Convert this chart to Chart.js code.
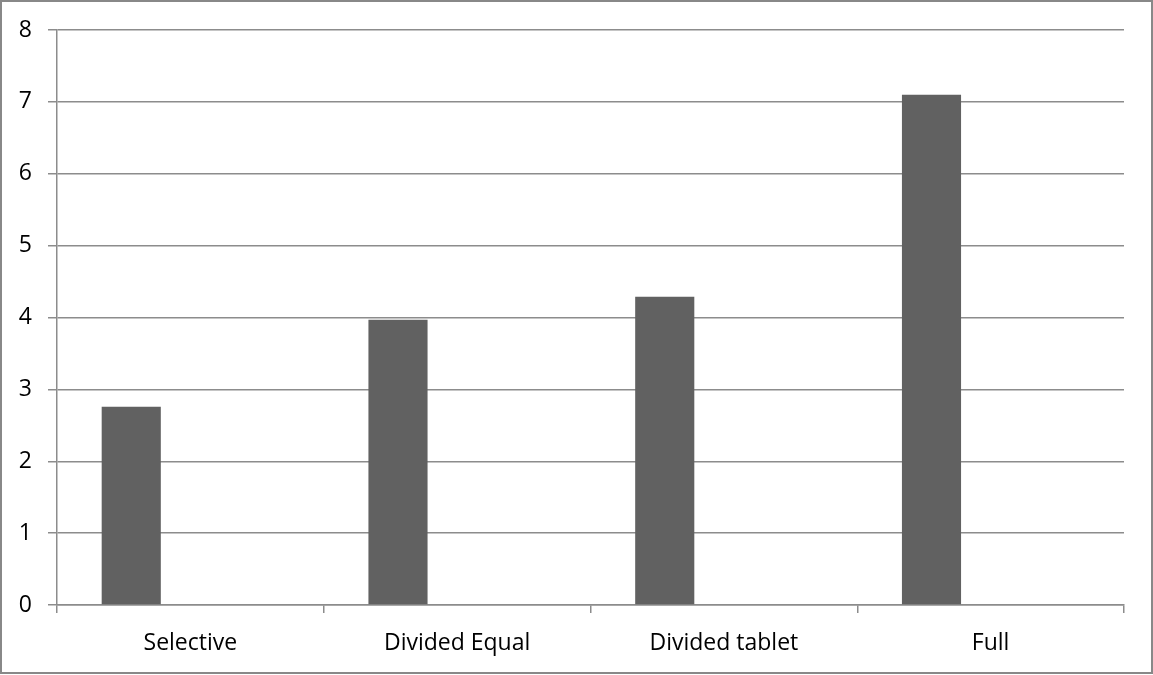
<!DOCTYPE html>
<html>
<head>
<meta charset="utf-8">
<script src="https://cdn.jsdelivr.net/npm/chart.js@4/dist/chart.umd.min.js"></script>
<style>
  html, body { margin: 0; padding: 0; background: #fff; }
  #wrap { width: 1153px; height: 675px; position: relative; }
</style>
</head>
<body>
<div id="wrap"><canvas id="chart"></canvas></div>
<script>
const categories = ['Selective', 'Divided Equal', 'Divided tablet', 'Full'];
const scores = [2.76, 3.97, 4.29, 7.10];
// two empty series, as in the original sheet, push the bars to the left of each slot
const emptySeries = [null, null, null, null];
const yTicks = [0, 1, 2, 3, 4, 5, 6, 7, 8];

const gridGrey = '#8c8c8c';
const barGrey = '#616161';

// gray frame around the whole chart
const framePlugin = {
    id: 'frame',
    afterDraw(chart) {
        const ctx = chart.ctx;
        ctx.save();
        ctx.strokeStyle = '#888888';
        ctx.lineWidth = 2;
        ctx.strokeRect(1, 1, chart.width - 2, chart.height - 3);
        ctx.restore();
    }
};

Chart.defaults.font.family = '"Open Sans", sans-serif';
Chart.defaults.font.size = 23;
Chart.defaults.color = '#000';

new Chart(document.getElementById('chart').getContext('2d'), {
    type: 'bar',
    data: {
        labels: categories,
        datasets: [
            { data: scores, backgroundColor: barGrey, borderWidth: 0 },
            { data: emptySeries, backgroundColor: barGrey, borderWidth: 0 },
            { data: emptySeries, backgroundColor: barGrey, borderWidth: 0 }
        ]
    },
    options: {
        responsive: true,
        maintainAspectRatio: false,
        animation: false,
        categoryPercentage: 0.665,
        barPercentage: 1,
        layout: { padding: { top: 30, right: 29, left: 0, bottom: 0 } },
        plugins: {
            legend: { display: false },
            tooltip: { enabled: false }
        },
        scales: {
            x: {
                offset: true,
                grid: {
                    offset: true,
                    drawOnChartArea: false,
                    color: gridGrey,
                    lineWidth: 1.5,
                    tickLength: 8
                },
                border: { color: gridGrey, width: 1.5 },
                ticks: { padding: 17, maxRotation: 0 },
                afterFit(scale) { scale.height = 70; }
            },
            y: {
                min: yTicks[0],
                max: yTicks[yTicks.length - 1],
                afterBuildTicks(scale) {
                    scale.ticks = yTicks.map(v => ({ value: v }));
                },
                grid: {
                    color: gridGrey,
                    lineWidth: 1.5,
                    tickLength: 9
                },
                border: { color: gridGrey, width: 1.5 },
                ticks: { padding: 16 },
                afterFit(scale) { scale.width = 57; }
            }
        }
    },
    plugins: [framePlugin]
});
</script>
</body>
</html>
